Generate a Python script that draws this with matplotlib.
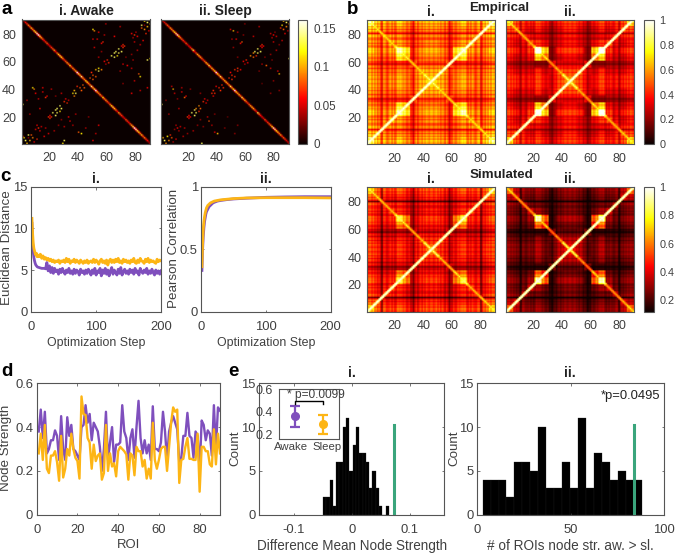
import numpy as np
import matplotlib
matplotlib.use('Agg')
import matplotlib.pyplot as plt

plt.rcParams['font.family'] = ['Liberation Sans', 'DejaVu Sans']

W, H = 675, 554
PURPLE = '#7f4fbd'
YELLOW = '#fdb515'
GREEN = '#3aa57c'
TXT = '#404040'
FS = 9.4

# ---- panel a, structural connectivity: (x, y, value), mirrored across the anti-diagonal
sc_awake = [(3,3,.16),(5,7,.13),(6,3,.09),(8,5,.08),(5,5,.03),(2,5,.10),(7,7,.07),(4,1,.09),(1,6,.06),(9,2,.05),
    (12,12,.06),(11,14,.05),(13,10,.05),(14,13,.04),(10,11,.04),(16,6,.05),(17,12,.04),
    (22,23,.13),(25,23,.12),(24,25,.12),(24,21,.14),(25,26,.14),(28,26,.13),(27,28,.12),(27,24,.10),
    (19,20,.06),(21,20,.06),(20,21,.05),(20,19,.06),(30,31,.06),(32,30,.06),(31,33,.05),(33,32,.04),
    (36,37,.10),(38,37,.12),(37,39,.09),(37,35,.08),(41,41,.07),(43,43,.07),(42,39,.07),(39,42,.06),(44,41,.07),
    (8,41,.10),(9,40,.08),(10,37,.05),(15,41,.05),(15,38,.05),(17,34,.06),(18,35,.05),(12,33,.04),(28,37,.04),
    (42,8,.10),(40,9,.07),(30,3,.12),(29,1,.10),(1,29,.12),(34,17,.05),(36,14,.04),(33,20,.05),(23,10,.04),
    (26,14,.03),(38,22,.04),(45,12,.04),(52,8,.04),(54,14,.05),(47,20,.03),(30,13,.04),(6,22,.04),(4,32,.04),
    (21,40,.04),(24,35,.03),(13,26,.05),(19,8,.04),(11,4,.06),(50,3,.05),(28,18,.03)]
sc_sleep = [(3,3,.16),(5,6,.10),(6,3,.08),(8,5,.07),(2,5,.09),(7,7,.06),(4,1,.08),(9,2,.04),
    (12,12,.05),(11,14,.04),(13,10,.04),(14,13,.04),(10,11,.03),(16,6,.04),(17,12,.04),
    (22,23,.13),(25,23,.14),(24,25,.13),(24,21,.15),(25,26,.08),(28,26,.07),(27,28,.08),(27,24,.06),
    (19,20,.06),(21,20,.05),(20,21,.05),(20,19,.05),(30,31,.06),(32,30,.05),(31,33,.05),(33,32,.04),
    (36,37,.06),(38,37,.06),(37,39,.06),(37,35,.05),(41,41,.06),(43,43,.06),(42,39,.06),(39,42,.05),(44,41,.06),
    (9,40,.09),(8,42,.04),(10,37,.04),(15,41,.04),(15,38,.05),(17,34,.07),(18,35,.05),(12,33,.03),(28,37,.03),
    (40,8,.09),(38,9,.05),(29,1,.12),(1,29,.12),(34,17,.07),(36,14,.04),(33,20,.04),(23,10,.04),
    (26,14,.03),(38,22,.03),(45,12,.03),(52,8,.03),(54,14,.03),(47,20,.02),(30,13,.03),(6,22,.04),(4,32,.03),
    (21,40,.03),(13,26,.04),(19,8,.03),(11,4,.05),(28,18,.03)]
anti_awake = [.05,.04,.06,.07,.09,.08,.11,.09,.12,.13,.15,.16,.13,.10,.08,.06,.07,.08,.05,.06,.07,.08,
    .10,.06,.09,.11,.13,.12,.09,.07,.08,.10,.09,.12,.08,.10,.09,.11,.16,.13,.11,.14,.10,.09,.12]
anti_sleep = [.05,.05,.05,.07,.08,.07,.10,.09,.11,.12,.14,.15,.12,.09,.08,.07,.06,.08,.05,.06,.06,.09,
    .13,.06,.08,.10,.11,.10,.08,.07,.08,.11,.10,.13,.09,.11,.10,.12,.16,.12,.10,.13,.10,.09,.11]

# ---- panel b, functional connectivity: one quadrant read in 5-ROI blocks, ROI 1-45
fc_emp_aw = [[.72,.60,.56,.53,.60,.56,.53,.53,.56],
             [.60,.60,.53,.50,.53,.53,.48,.50,.53],
             [.56,.53,.60,.53,.53,.50,.46,.48,.50],
             [.53,.50,.53,.60,.56,.53,.46,.48,.53],
             [.60,.53,.53,.56,.82,.76,.48,.53,.58],
             [.56,.53,.50,.53,.76,.72,.48,.53,.56],
             [.53,.48,.46,.46,.48,.48,.58,.53,.53],
             [.53,.50,.48,.48,.53,.53,.53,.60,.58],
             [.56,.53,.50,.53,.58,.56,.53,.58,.62]]
fc_emp_sl = [[.60,.42,.38,.35,.40,.36,.30,.35,.40],
             [.42,.45,.36,.30,.36,.30,.25,.30,.38],
             [.38,.36,.45,.33,.32,.30,.25,.30,.36],
             [.35,.30,.33,.45,.40,.35,.25,.30,.36],
             [.40,.36,.32,.40,.95,.70,.22,.38,.42],
             [.36,.30,.30,.35,.70,.58,.22,.30,.36],
             [.30,.25,.25,.25,.22,.22,.42,.36,.36],
             [.35,.30,.30,.30,.38,.30,.36,.46,.44],
             [.40,.38,.36,.36,.42,.36,.36,.44,.50]]
fc_sim_aw = [[.66,.54,.51,.49,.53,.51,.47,.49,.51],
             [.54,.54,.47,.45,.47,.47,.43,.45,.49],
             [.51,.47,.54,.47,.47,.45,.41,.43,.45],
             [.49,.45,.47,.54,.49,.47,.41,.43,.47],
             [.53,.47,.47,.49,.78,.66,.43,.47,.51],
             [.51,.47,.45,.47,.66,.62,.43,.47,.49],
             [.47,.43,.41,.41,.43,.43,.50,.47,.47],
             [.49,.45,.43,.43,.47,.47,.47,.52,.50],
             [.51,.49,.45,.47,.51,.49,.47,.50,.56]]
fc_sim_sl = [[.52,.34,.30,.27,.30,.27,.22,.26,.30],
             [.34,.38,.27,.24,.27,.24,.20,.24,.28],
             [.30,.27,.38,.26,.25,.23,.20,.23,.27],
             [.27,.24,.26,.38,.32,.27,.20,.24,.28],
             [.30,.27,.25,.32,.88,.62,.20,.30,.34],
             [.27,.24,.23,.27,.62,.50,.20,.25,.28],
             [.22,.20,.20,.20,.20,.20,.34,.28,.28],
             [.26,.24,.23,.24,.30,.25,.28,.38,.36],
             [.30,.28,.27,.28,.34,.28,.28,.36,.42]]
# brightness of the cross arms per block, and per-ROI stripes (ROI 1-45)
band_aw = [.82,.76,.72,.72,.85,.80,.70,.72,.88]
band_sl = [.78,.70,.66,.66,.85,.75,.60,.66,.86]
stripe_emp = [1.0,1.12,1.16,.92,1.12,.97,1.15,.88,1.08,.82,.62,1.08,1.12,.92,.84,1.03,1.12,.88,1.08,.86,
              .9,1.12,1.03,1.1,1.0,.97,1.05,.88,.85,1.0,.85,.82,.62,.92,1.08,.8,1.03,1.08,.92,1.12,.94,1.08,1.03,.94,1.08]
stripe_sim = [1.0,1.08,1.1,.94,1.06,1.0,1.08,.9,1.03,.8,.5,1.0,1.08,.9,.88,.97,1.06,.88,1.03,.85,
              .88,1.08,1.0,1.04,1.0,.95,1.03,.85,.82,.95,.8,.82,.6,.88,1.03,.76,.95,1.06,.88,1.08,.88,1.05,.97,.9,1.03]

# ---- panel c
steps = list(range(1, 11)) + list(range(12, 201, 2))
dist_sleep = [11.2,9.4,8.2,7.6,7.3,7.0,6.8,7.0,6.6,6.8,
    6.6,6.9,6.4,6.7,6.3,6.5,6.2,6.4,6.1,6.3,
    6.0,6.2,5.9,6.1,6.0,6.2,5.8,6.1,6.0,6.2,
    5.9,6.4,6.0,6.3,5.8,6.1,6.0,6.3,5.9,6.2,
    6.0,5.8,6.2,6.0,5.8,6.1,5.9,6.2,5.8,6.0,
    6.1,5.9,6.3,5.9,6.2,6.0,5.7,6.1,6.3,5.9,
    6.1,5.8,6.2,5.6,6.1,6.3,5.9,6.2,5.9,6.3,
    6.0,6.4,5.9,6.1,5.8,6.3,6.0,6.2,5.9,6.1,
    5.8,6.2,6.0,6.4,5.9,5.8,6.2,5.9,6.4,6.1,
    6.0,5.8,6.3,6.0,6.4,5.9,6.2,6.0,6.1,5.9,
    5.8,6.3,6.0,6.2,6.1]
dist_awake = [10.6,8.4,7.2,6.5,6.1,5.8,5.6,5.5,5.4,5.35,
    5.3,5.25,5.2,5.2,5.2,5.15,5.9,4.9,5.5,4.7,
    5.3,4.6,5.2,4.8,5.0,4.5,5.1,4.7,5.2,4.8,
    4.5,5.0,4.7,5.2,4.6,4.9,4.5,5.1,4.6,5.0,
    4.8,4.4,5.1,4.7,4.9,4.5,5.0,4.6,5.1,4.8,
    4.4,5.0,4.6,5.2,4.4,4.9,4.7,5.2,4.3,5.0,
    4.6,5.2,4.5,5.0,4.3,4.9,5.3,4.5,5.0,4.7,
    4.4,5.1,4.6,5.3,4.4,4.8,5.1,4.6,4.9,4.5,
    5.1,4.7,5.0,4.5,5.2,4.7,4.9,4.4,5.2,4.8,
    4.6,5.0,4.7,5.2,4.5,4.9,4.6,5.1,4.7,4.4,
    5.0,4.6,4.9,4.5,4.9]
corr_steps = [1,2,3,4,5,6,7,8,10,12,14,16,18,20,25,30,40,50,70,100,130,160,200]
corr_sleep = [.36,.55,.66,.72,.76,.79,.81,.83,.85,.86,.87,.875,.88,.885,.89,.895,.90,.905,.91,.912,.912,.912,.91]
corr_awake = [.33,.50,.60,.67,.72,.75,.78,.80,.82,.84,.85,.86,.87,.875,.885,.89,.897,.902,.908,.915,.918,.92,.92]

# ---- panel d
roi = list(range(1, 91))
strength_awake = [.38,.48,.35,.47,.28,.30,.34,.34,.385,.36,.25,.45,.30,.25,.445,.36,.41,.30,.29,.27,.25,
    .40,.41,.50,.42,.46,.34,.42,.40,.38,.31,.20,.30,.47,.25,.33,.40,.24,.32,.32,.33,.50,.38,.35,.25,
    .35,.39,.26,.40,.52,.35,.28,.34,.28,.32,.25,.495,.30,.30,.29,.33,.47,.38,.25,.38,.42,.45,.42,.39,
    .24,.26,.36,.36,.465,.36,.35,.26,.38,.36,.20,.43,.41,.34,.385,.37,.27,.50,.30,.49,.475]
strength_sleep = [.28,.37,.25,.41,.21,.19,.27,.27,.29,.24,.155,.36,.17,.21,.30,.27,.37,.30,.26,.245,.165,
    .54,.46,.455,.35,.33,.21,.32,.245,.27,.28,.16,.19,.41,.20,.28,.22,.235,.175,.29,.31,.30,.29,.275,.16,
    .28,.27,.18,.31,.29,.29,.22,.25,.165,.21,.165,.42,.25,.21,.25,.30,.31,.31,.20,.31,.42,.49,.47,.48,
    .145,.25,.255,.31,.35,.255,.255,.25,.25,.37,.105,.31,.31,.29,.29,.23,.22,.39,.23,.37,.28]

# ---- panel e
diff_start, diff_width = -0.0495, 0.0057
diff_counts = [2,2,4,1,6,6,10,11,5,8,10,7,7,6,3,5,3,1,0,1]
diff_obs = 0.073
nroi_start, nroi_width = 2.86, 4.26
nroi_counts = [4,4,4,2,6,6,5,10,3,3,6,3,11,3,7,6,4,5,4,4]
nroi_obs = 84
inset_mean = [.359, .285]
inset_low = [.265, .20]
inset_high = [.447, .37]


fig = plt.figure(figsize=(W / 100, H / 100), dpi=100)


def box(x0, y0, x1, y1):
    return fig.add_axes([x0 / W, 1 - y1 / H, (x1 - x0) / W, (y1 - y0) / H])


def label(x, y, s, **kw):
    kw.setdefault('fontsize', FS)
    kw.setdefault('color', TXT)
    return fig.text(x / W, 1 - y / H, s, ha='center', va='center', **kw)


def style(ax, lw=0.8):
    ax.tick_params(direction='in', length=1.8, width=0.5, labelsize=FS, colors=TXT,
                   top=True, right=True, pad=2.5)
    ax.tick_params(axis='x', pad=7)
    for s in ax.spines.values():
        s.set_color('#555555')
        s.set_linewidth(lw)


def sc_matrix(points, anti):
    m = np.zeros((90, 90))
    for x, y, v in points:
        m[y - 1, x - 1] = min(v * 1.15, .135)
        m[90 - x, 90 - y] = min(v * 1.15, .135)
    for x in range(1, 91):
        v = anti[min(x, 91 - x) - 1]
        m[90 - x, x - 1] = v
        if x < 90:
            m[90 - x, x] = max(m[90 - x, x], v * .3)
            m[89 - x, x - 1] = max(m[89 - x, x - 1], v * .3)
    return m


def fc_matrix(table, band, stripe):
    q = np.kron(np.array(table), np.ones((5, 5)))
    f = np.array(stripe)
    q = q * np.outer(f, f)
    for i in range(45):
        b = band[i // 5]
        q[i, i] = max(q[i, i], b)
        if i > 0:
            q[i, i - 1] = max(q[i, i - 1], b * .8)
            q[i - 1, i] = max(q[i - 1, i], b * .8)
    top = np.hstack([q, q[:, ::-1]])
    m = np.vstack([top, top[::-1, :]])
    for i in range(89):
        m[i, i + 1] = max(m[i, i + 1], .88)
        m[i + 1, i] = max(m[i + 1, i], .88)
    np.fill_diagonal(m, 1.0)
    return np.clip(m, 0, 1)


def matrix_panel(rect, m, vmin, vmax, ylab=True):
    ax = box(*rect)
    im = ax.imshow(m, cmap='hot', vmin=vmin, vmax=vmax, origin='lower', interpolation='bilinear',
                   extent=(.5, 90.5, .5, 90.5), aspect='auto')
    ax.set_xticks([20, 40, 60, 80])
    ax.set_yticks([20, 40, 60, 80])
    style(ax)
    ax.tick_params(length=0, labelsize=9)
    ax.tick_params(axis='y', pad=4)
    ax.tick_params(axis='x', pad=6)
    if not ylab:
        ax.set_yticklabels([])
    return im


def cbar(rect, im, ticks, labels, size=8.4, pad=5):
    cax = box(*rect)
    cb = fig.colorbar(im, cax=cax)
    cb.set_ticks(ticks)
    cb.set_ticklabels(labels)
    cax.tick_params(direction='in', length=0, labelsize=size, colors=TXT, pad=pad)
    cb.outline.set_edgecolor('#555555')
    cb.outline.set_linewidth(0.8)


# a
im = matrix_panel((21.5, 19.5, 150, 144), sc_matrix(sc_awake, anti_awake), 0, .161)
matrix_panel((160.5, 19.5, 288.7, 144), sc_matrix(sc_sleep, anti_sleep), 0, .161, ylab=False)
cbar((297.5, 19.5, 306.7, 144), im, [0, .05, .1, .15], ['0', '0.05', '0.1', '0.15'])

# b
im = matrix_panel((367, 20, 495.3, 144.3), fc_matrix(fc_emp_aw, band_aw, stripe_emp), 0, 1)
matrix_panel((506, 20, 634, 144.3), fc_matrix(fc_emp_sl, band_sl, stripe_emp), 0, 1, ylab=False)
cbar((644, 20, 653.7, 144.3), im, [0, .2, .4, .6, .8, 1], ['0', '0.2', '0.4', '0.6', '0.8', '1'], size=7.8, pad=4)
im = matrix_panel((367, 187.3, 495.3, 312), fc_matrix(fc_sim_aw, band_aw, stripe_sim), .115, 1)
matrix_panel((506, 187.3, 634, 312), fc_matrix(fc_sim_sl, band_sl, stripe_sim), .115, 1, ylab=False)
cbar((644, 187.3, 653.7, 312), im, [.2, .4, .6, .8, 1], ['0.2', '0.4', '0.6', '0.8', '1'], size=7.8, pad=4)

# c
ax = box(31.3, 186.7, 161, 311.7)
ax.plot(steps, dist_awake, color=PURPLE, lw=2.0)
ax.plot(steps, dist_sleep, color=YELLOW, lw=2.0)
ax.set_xlim(0, 200)
ax.set_ylim(0, 15)
ax.set_xticks([0, 100, 200])
ax.set_yticks([0, 5, 10, 15])
style(ax)

ax = box(201.3, 186.7, 330.7, 311.7)
ax.plot(corr_steps, corr_awake, color=PURPLE, lw=2.0)
ax.plot(corr_steps, corr_sleep, color=YELLOW, lw=2.0)
ax.set_xlim(0, 200)
ax.set_ylim(0, 1)
ax.set_xticks([0, 100, 200])
ax.set_yticks([0, .5, 1])
ax.set_yticklabels(['0', '0.5', '1'])
style(ax)

# d
ax = box(36.7, 383.3, 220, 514.7)
ax.plot(roi, strength_awake, color=PURPLE, lw=1.7)
ax.plot(roi, strength_sleep, color=YELLOW, lw=1.7)
ax.set_xlim(0, 90)
ax.set_ylim(0, .6)
ax.set_xticks([0, 20, 40, 60, 80])
ax.set_yticks([0, .2, .4, .6])
ax.set_yticklabels(['0', '0.2', '0.4', '0.6'])
style(ax)

# e i
ax = box(259, 383.3, 444.3, 514.7)
ax.bar([diff_start + i * diff_width for i in range(len(diff_counts))], diff_counts, width=diff_width,
       align='edge', color='black', edgecolor='#222222', linewidth=0.2)
ax.plot([diff_obs, diff_obs], [0, 10.2], color=GREEN, lw=2.2)
ax.set_xlim(-.16, .16)
ax.set_ylim(0, 15)
ax.set_xticks([-.1, 0, .1])
ax.set_xticklabels(['-0.1', '0', '0.1'])
ax.set_yticks([0, 5, 10, 15])
style(ax)

ins = box(278.7, 389, 339.3, 439.3)
for i, c in enumerate([PURPLE, YELLOW]):
    m = inset_mean[i]
    ins.errorbar(i + 1, m, yerr=[[m - inset_low[i]], [inset_high[i] - m]], fmt='o', color=c,
                 ms=5.5, elinewidth=1.6, capsize=3.5, capthick=1.6)
ins.plot([1, 1, 2, 2], [.47, .495, .495, .47], color='black', lw=1.0)
ins.text(.7, .545, '* p=0.0099', fontsize=8.6, color=TXT, va='center', ha='left')
ins.set_xlim(.41, 2.6)
ins.set_ylim(.153, .6)
ins.set_xticks([])
ins.set_yticks([.2, .4, .6])
ins.set_yticklabels(['0.2', '0.4', '0.6'])
style(ins)
ins.tick_params(labelsize=9, length=0, pad=4)
label(291, 447.5, 'Awake', fontsize=8.2)
label(327, 447.5, 'Sleep', fontsize=8.2)

# e ii
ax = box(477.3, 383.3, 664, 514.7)
ax.bar([nroi_start + i * nroi_width for i in range(len(nroi_counts))], nroi_counts, width=nroi_width,
       align='edge', color='black', edgecolor='#222222', linewidth=0.2)
ax.plot([nroi_obs, nroi_obs], [0, 10.2], color=GREEN, lw=2.2)
ax.text(98, 13.5, '*p=0.0495', fontsize=FS, color='#222222', ha='right', va='center')
ax.set_xlim(0, 100)
ax.set_ylim(0, 15)
ax.set_xticks([0, 50, 100])
ax.set_yticks([0, 5, 10, 15])
style(ax)

# text around the panels
for x, y, s in [(7, 9, 'a'), (353, 9, 'b'), (5, 176, 'c'), (7, 372, 'd'), (233, 372, 'e')]:
    label(x, y, s, fontsize=13.5, fontweight='bold', color='black')
for x, y, s in [(86, 11, 'i. Awake'), (225, 11, 'ii. Sleep'), (431, 12, 'i.'), (570, 12, 'ii.'),
                (499, 8, 'Empirical'), (501, 175, 'Simulated'), (431, 179, 'i.'), (570, 179, 'ii.'),
                (96, 179, 'i.'), (266, 179, 'ii.'), (352, 373, 'i.'), (570, 373, 'ii.')]:
    label(x, y, s, fontweight='bold', color='#222222', fontsize=9.6 if s[0] in 'ES' else 10)
label(96, 343, 'Optimization Step', fontsize=8.9)
label(266, 343, 'Optimization Step', fontsize=8.9)
label(128, 545, 'ROI')
label(352, 546, 'Difference Mean Node Strength', fontsize=9.75)
label(570, 546, '# of ROIs node str. aw. > sl.', fontsize=9.8)
label(7, 248, 'Euclidean Distance', rotation=90, fontsize=9.6)
label(174, 248, 'Pearson Correlation', rotation=90, fontsize=9.6)
label(6, 448, 'Node Strength', rotation=90, fontsize=9.6)
label(235, 448, 'Count', rotation=90, fontsize=9.6)
label(454, 448, 'Count', rotation=90, fontsize=9.6)

fig.savefig('out.png', dpi=100)
